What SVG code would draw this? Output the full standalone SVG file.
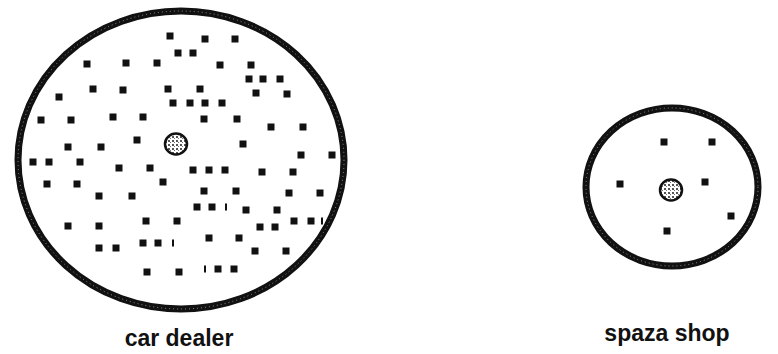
<svg xmlns="http://www.w3.org/2000/svg" width="778" height="354" viewBox="0 0 778 354">
<style>
.ring{fill:none;stroke:#111;stroke-width:7}
.ringtex{fill:none;stroke:#fff;stroke-width:1;stroke-dasharray:1 3;opacity:0.5}
.core{fill:url(#speck);stroke:#111;stroke-width:2.5}
.d{fill:#111}
.lbl{font-family:"Liberation Sans",Arial,sans-serif;font-weight:bold;font-size:23px;fill:#111;text-anchor:middle}
</style>
<defs>
<pattern id="speck" width="4" height="4" patternUnits="userSpaceOnUse">
<rect width="4" height="4" fill="#fff"/>
<rect x="0" y="0" width="2" height="2" fill="#555"/>
<rect x="2" y="2" width="1" height="1" fill="#777"/>
</pattern>
<rect id="dot" x="-3.5" y="-3.5" width="7" height="7" class="d"/>
<rect id="thin" x="-1" y="-3.5" width="2" height="7" class="d"/>
</defs>
<rect width="778" height="354" fill="#fff"/>
<g id="car-dealer">
<ellipse class="ring" cx="181" cy="160" rx="163" ry="149"/>
<ellipse class="ringtex" cx="181" cy="160" rx="163" ry="149"/>
<g id="car-dealer-customers">
<use href="#dot" x="170" y="36"/><use href="#dot" x="205" y="39"/><use href="#dot" x="235" y="39"/>
<use href="#dot" x="178" y="53"/><use href="#dot" x="193" y="53"/>
<use href="#dot" x="87" y="64"/><use href="#dot" x="126" y="63"/><use href="#dot" x="157" y="63"/><use href="#dot" x="220" y="65"/><use href="#dot" x="251" y="65"/>
<use href="#dot" x="249" y="79"/><use href="#dot" x="263" y="79"/><use href="#dot" x="280" y="79"/>
<use href="#dot" x="59" y="97"/><use href="#dot" x="93" y="89"/><use href="#dot" x="123" y="90"/><use href="#dot" x="168" y="89"/><use href="#dot" x="200" y="89"/><use href="#dot" x="256" y="93"/><use href="#dot" x="287" y="94"/>
<use href="#dot" x="173" y="103"/><use href="#dot" x="190" y="103"/><use href="#dot" x="205" y="103"/><use href="#dot" x="222" y="103"/>
<use href="#dot" x="41" y="120"/><use href="#dot" x="71" y="120"/><use href="#dot" x="113" y="117"/><use href="#dot" x="143" y="117"/><use href="#dot" x="204" y="119"/><use href="#dot" x="237" y="119"/><use href="#dot" x="271" y="127"/><use href="#dot" x="303" y="127"/>
<use href="#dot" x="137" y="140"/><use href="#dot" x="68" y="147"/><use href="#dot" x="101" y="147"/><use href="#dot" x="243" y="144"/>
<use href="#dot" x="301" y="155"/><use href="#dot" x="332" y="155"/>
<use href="#dot" x="33" y="162"/><use href="#dot" x="49" y="162"/><use href="#dot" x="80" y="162"/><use href="#dot" x="119" y="168"/><use href="#dot" x="150" y="168"/><use href="#dot" x="193" y="170"/><use href="#dot" x="209" y="170"/><use href="#dot" x="225" y="170"/><use href="#dot" x="262" y="172"/><use href="#dot" x="293" y="172"/>
<use href="#dot" x="47" y="184"/><use href="#dot" x="77" y="184"/><use href="#dot" x="163" y="182"/>
<use href="#dot" x="99" y="196"/><use href="#dot" x="132" y="196"/><use href="#dot" x="204" y="191"/><use href="#dot" x="236" y="191"/><use href="#dot" x="289" y="193"/><use href="#dot" x="320" y="193"/>
<use href="#dot" x="197" y="207"/><use href="#dot" x="212" y="207"/><use href="#thin" x="226" y="207"/><use href="#dot" x="246" y="210"/><use href="#dot" x="277" y="210"/>
<use href="#dot" x="146" y="221"/><use href="#dot" x="177" y="221"/><use href="#dot" x="68" y="226"/><use href="#dot" x="99" y="226"/><use href="#dot" x="260" y="227"/><use href="#dot" x="275" y="227"/><use href="#dot" x="294" y="221"/><use href="#dot" x="311" y="221"/><use href="#thin" x="322" y="221"/>
<use href="#dot" x="209" y="238"/><use href="#dot" x="239" y="238"/><use href="#dot" x="143" y="243"/><use href="#dot" x="158" y="243"/><use href="#thin" x="173" y="243"/><use href="#dot" x="99" y="248"/><use href="#dot" x="116" y="248"/><use href="#dot" x="255" y="251"/><use href="#dot" x="286" y="251"/>
<use href="#dot" x="147" y="272"/><use href="#dot" x="179" y="272"/><use href="#thin" x="205" y="269"/><use href="#dot" x="218" y="269"/><use href="#dot" x="234" y="269"/>
</g>
<ellipse class="core" cx="176" cy="144" rx="11" ry="10.5"/>
<text class="lbl" x="179" y="346">car dealer</text>
</g>
<g id="spaza-shop">
<ellipse class="ring" cx="672" cy="187" rx="86" ry="79"/>
<ellipse class="ringtex" cx="672" cy="187" rx="86" ry="79"/>
<g id="spaza-shop-customers">
<use href="#dot" x="664" y="142"/><use href="#dot" x="712" y="142"/><use href="#dot" x="620" y="184"/><use href="#dot" x="705" y="182"/><use href="#dot" x="731" y="216"/><use href="#dot" x="667" y="231"/>
</g>
<ellipse class="core" cx="671" cy="190" rx="11" ry="10.5"/>
<text class="lbl" x="667" y="341">spaza shop</text>
</g>
</svg>
